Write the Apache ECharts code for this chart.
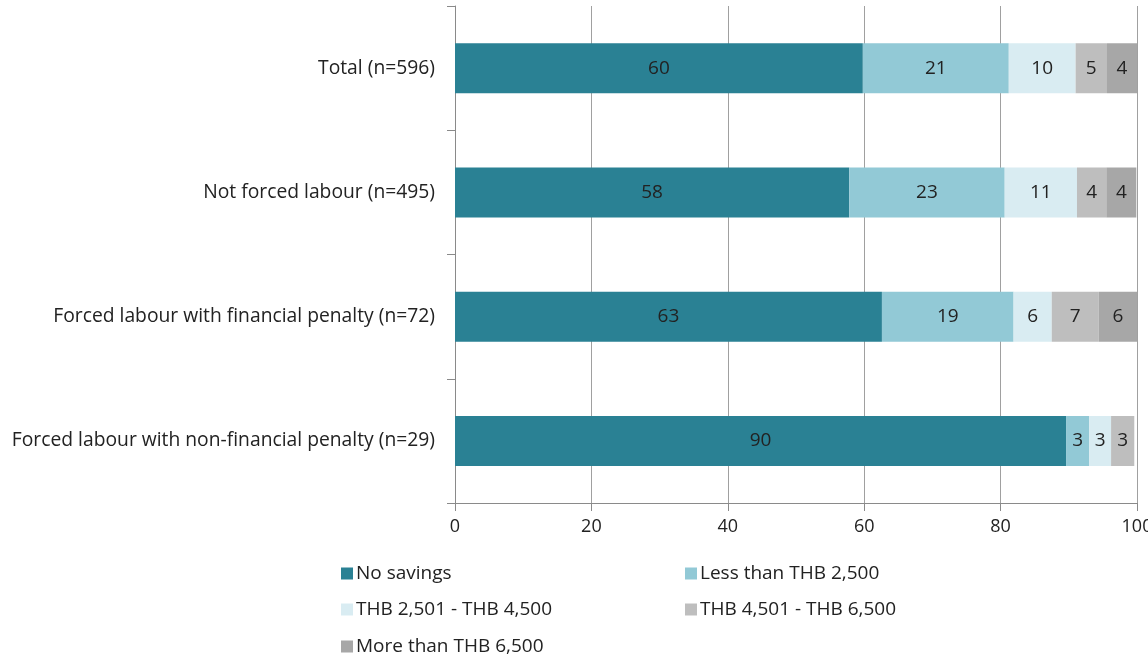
<!DOCTYPE html>
<html><head><meta charset="utf-8">
<script src="https://cdn.jsdelivr.net/npm/echarts@6/dist/echarts.min.js"></script>
<style>html,body{margin:0;padding:0;background:#fff}#c{width:1148px;height:656px}</style>
</head><body><div id="c"></div>
<script>
const categories = ["Total (n=596)", "Not forced labour (n=495)", "Forced labour with financial penalty (n=72)", "Forced labour with non-financial penalty (n=29)"];
const seriesNames = ["No savings", "Less than THB 2,500", "THB 2,501 - THB 4,500", "THB 4,501 - THB 6,500", "More than THB 6,500"];
const noSavings = [59.8, 57.8, 62.6, 89.6];
const lessThan2500 = [21.4, 22.8, 19.3, 3.4];
const thb2501to4500 = [9.8, 10.6, 5.6, 3.2];
const thb4501to6500 = [4.6, 4.3, 6.9, 3.4];
const moreThan6500 = [4.4, 4.4, 5.6, 0];
const xTicks = [0, 20, 40, 60, 80, 100];
const colors = ["#2a8194", "#92c9d6", "#d9ecf2", "#bebebe", "#a7a7a7"];
const FONT = "Open Sans";

const values = [noSavings, lessThan2500, thb2501to4500, thb4501to6500, moreThan6500];
const chart = echarts.init(document.getElementById('c'));
const legendPos = [[341, 564], [685, 564], [341, 600], [685, 600], [341, 637]];
chart.setOption({
  animation: false,
  textStyle: {fontFamily: FONT},
  grid: {left: 455, right: 11, top: 6, bottom: 153, outerBoundsMode: 'none', containLabel: false},
  xAxis: {
    type: 'value', min: xTicks[0], max: xTicks[xTicks.length - 1], interval: 20,
    axisLine: {show: true, lineStyle: {color: '#8a8a8a'}},
    axisTick: {show: true, length: 8, lineStyle: {color: '#8a8a8a'}},
    splitLine: {show: true, lineStyle: {color: '#a0a0a0', width: 1}},
    axisLabel: {color: '#222', fontSize: 18, fontFamily: FONT, margin: 15}
  },
  yAxis: {
    type: 'category', data: categories, inverse: true,
    axisLine: {show: true, lineStyle: {color: '#8a8a8a'}},
    axisTick: {show: true, length: 8, lineStyle: {color: '#8a8a8a'}},
    axisLabel: {color: '#222', fontSize: 19.3, fontFamily: FONT, margin: 20}
  },
  legend: legendPos.map((p, i) => ({
    data: [seriesNames[i]], left: p[0], top: p[1], padding: 0, icon: 'rect', itemWidth: 12, itemHeight: 12, itemGap: 0,
    textStyle: {color: '#222', fontSize: 19, fontFamily: FONT, padding: [0, 0, 0, -2]}, selectedMode: false
  })),
  series: seriesNames.map((name, i) => ({
    name, type: 'bar', stack: 'all', barWidth: 50,
    data: values[i],
    itemStyle: {color: colors[i]},
    label: {
      show: true, position: 'inside', color: '#222', fontSize: 19, fontFamily: FONT,
      formatter: p => p.value > 0 ? String(Math.round(p.value)) : ''
    }
  }))
});
</script></body></html>
